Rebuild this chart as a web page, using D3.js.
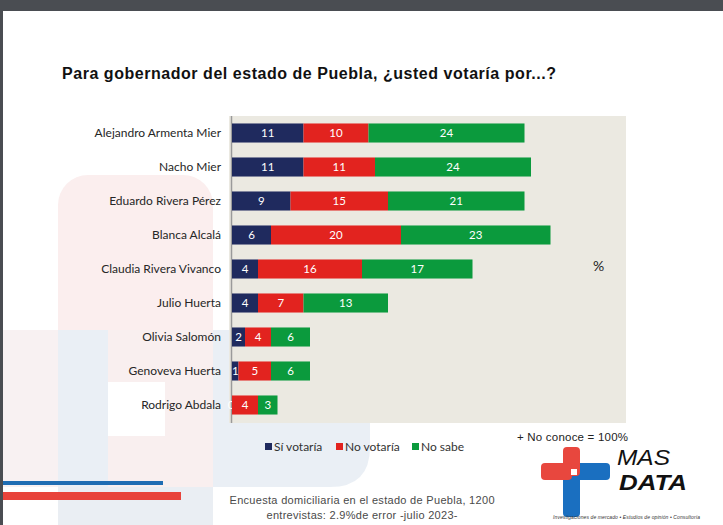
<!DOCTYPE html>
<html><head><meta charset="utf-8">
<script src="https://cdn.jsdelivr.net/npm/d3@7"></script>
<style>body{margin:0;background:#fff}svg{display:block}</style>
</head><body><svg id="c" width="723" height="525"></svg>
<script>
// ---- data ----
const categories = ["Alejandro Armenta Mier","Nacho Mier","Eduardo Rivera Pérez","Blanca Alcalá","Claudia Rivera Vivanco","Julio Huerta","Olivia Salomón","Genoveva Huerta","Rodrigo Abdala"];
const siVotaria = [11,11,9,6,4,4,2,1,0];
const noVotaria = [10,11,15,20,16,7,4,5,4];
const noSabe    = [24,24,21,23,17,13,6,6,3];
const seriesKeys  = ["si","no","ns"];
const seriesNames = ["Sí votaría","No votaría","No sabe"];
const seriesColors = ["#1f2a5e","#e2231f","#0b9a3d"];
const title = "Para gobernador del estado de Puebla, ¿usted votaría por...?";
const note = "+ No conoce = 100%";
const footer = ["Encuesta domiciliaria en el estado de Puebla, 1200","entrevistas: 2.9%de error -julio 2023-"];

const rows = categories.map((c,i)=>({cat:c, si:siVotaria[i], no:noVotaria[i], ns:noSabe[i]}));

const svg = d3.select("#c");
const W = 723, H = 525;
svg.append("rect").attr("width",W).attr("height",H).attr("fill","#fff");

// ---- faint watermark background ----
const wm = svg.append("g");
wm.append("rect").attr("x",58).attr("y",175).attr("width",155).attr("height",330).attr("rx",30).attr("fill","#fbeeee");
wm.append("path").attr("d","M0,330 H370 V447 Q370,487 330,487 H0 Z").attr("fill","#e9eef4").attr("opacity",0.95);
wm.append("rect").attr("x",0).attr("y",330).attr("width",58).attr("height",157).attr("fill","#f8f1f2");
wm.append("rect").attr("x",108).attr("y",330).attr("width",105).attr("height",157).attr("fill","#f9efef");
wm.append("rect").attr("x",108).attr("y",382).attr("width",57).attr("height",54).attr("fill","#ffffff");
wm.append("rect").attr("x",58).attr("y",487).attr("width",155).attr("height",38).attr("fill","#eaeef3");
// stripes
svg.append("rect").attr("x",0).attr("y",481).attr("width",163).attr("height",4).attr("fill","#1f6db3");
svg.append("rect").attr("x",0).attr("y",492).attr("width",181).attr("height",8).attr("fill","#e8433b");
// frame
svg.append("rect").attr("x",0).attr("y",0).attr("width",W).attr("height",11).attr("fill","#4a4d52");
svg.append("rect").attr("x",0).attr("y",0).attr("width",3).attr("height",H).attr("fill","#4a4d52");

// ---- title ----
svg.append("text").attr("x",62).attr("y",79)
  .attr("font-family","'Liberation Sans Narrow','Liberation Sans',Arial,sans-serif")
  .attr("font-weight","bold").attr("font-size",16).attr("fill","#111")
  .attr("textLength",494).attr("lengthAdjust","spacing").text(title);

// ---- scales ----
const x = d3.scaleLinear().domain([0,60]).range([232,622]);
const y = d3.scaleBand().domain(categories).range([116,422]).paddingInner(0.44).paddingOuter(0.22);

// plot background
svg.append("rect").attr("x",229).attr("y",116).attr("width",397).attr("height",307).attr("fill","#ebe9e1");

// axis line (under the bars)
const axis = svg.append("g").attr("transform","translate(232,0)")
  .call(d3.axisLeft(y).tickSize(0).tickPadding(11));
axis.select(".domain").attr("stroke","#9a9a9a").attr("stroke-width",1.5)
  .attr("d","M-0.5,116V423");
axis.selectAll("text").attr("font-family","Lato,'Open Sans',sans-serif")
  .attr("font-size",12).attr("fill","#262626");

const stack = d3.stack().keys(seriesKeys)(rows);

const groups = svg.append("g").selectAll("g").data(stack).join("g");
groups.each(function(s,si){
  const g = d3.select(this);
  g.selectAll("rect").data(s).join("rect")
    .attr("x",d=>x(d[0])).attr("width",d=>x(d[1])-x(d[0]))
    .attr("y",d=>y(d.data.cat)).attr("height",y.bandwidth())
    .attr("fill",seriesColors[si]);
  g.selectAll("text").data(s).join("text")
    .attr("x",d=>(x(d[0])+x(d[1]))/2 - (d[1]-d[0]===0 ? 1 : 0)).attr("y",d=>y(d.data.cat)+y.bandwidth()/2)
    .attr("dy","0.36em").attr("text-anchor","middle")
    .attr("font-family","Lato,'Open Sans',sans-serif").attr("font-size",11.5)
    .attr("fill","#ffffff").text(d=>d.data[seriesKeys[si]]);
});

// percent sign
svg.append("text").attr("x",593).attr("y",271).attr("font-family","Lato,sans-serif")
  .attr("font-size",14).attr("fill","#222").text("%");

// ---- legend ----
const legX = [265,336,412];
const leg = svg.append("g");
seriesNames.forEach((n,i)=>{
  leg.append("rect").attr("x",legX[i]).attr("y",443).attr("width",7).attr("height",7).attr("fill",seriesColors[i]);
  leg.append("text").attr("x",legX[i]+9).attr("y",450.5).attr("font-family","Lato,'Open Sans',sans-serif")
    .attr("font-size",12).attr("fill","#333").text(n);
});

// note
svg.append("text").attr("x",517).attr("y",441).attr("font-family","'Liberation Sans',Arial,sans-serif")
  .attr("font-size",11.5).attr("fill","#222").attr("textLength",111).text(note);

// footer
svg.append("text").attr("x",362).attr("y",504).attr("text-anchor","middle")
  .attr("font-family","'Liberation Sans',Arial,sans-serif").attr("font-size",11).attr("fill","#4a4a4a")
  .attr("textLength",265).attr("lengthAdjust","spacing").text(footer[0]);
svg.append("text").attr("x",362).attr("y",519).attr("text-anchor","middle")
  .attr("font-family","'Liberation Sans',Arial,sans-serif").attr("font-size",11).attr("fill","#4a4a4a")
  .attr("textLength",191).attr("lengthAdjust","spacing").text(footer[1]);

// ---- logo ----
const lg = svg.append("g");
const red="#e8473e", blue="#1a6fc0";
lg.append("rect").attr("x",566).attr("y",463).attr("width",44).attr("height",17).attr("rx",4).attr("fill",blue);
lg.append("rect").attr("x",563).attr("y",466).attr("width",17).attr("height",51).attr("rx",4).attr("fill",blue);
lg.append("rect").attr("x",563).attr("y",447).attr("width",17).attr("height",29).attr("rx",4).attr("fill",red);
lg.append("rect").attr("x",541).attr("y",463).attr("width",31).attr("height",17).attr("rx",4).attr("fill",red);
lg.append("rect").attr("x",571).attr("y",469).attr("width",6).attr("height",6).attr("fill","#fff");
lg.append("text").attr("x",617).attr("y",465).attr("font-family","'Liberation Sans',Arial,sans-serif")
  .attr("font-style","italic").attr("font-size",22).attr("fill","#111")
  .attr("textLength",53).attr("lengthAdjust","spacingAndGlyphs").text("MAS");
lg.append("text").attr("x",619).attr("y",490).attr("font-family","'Liberation Sans',Arial,sans-serif")
  .attr("font-style","italic").attr("font-weight","bold").attr("font-size",22).attr("fill","#111")
  .attr("textLength",68).attr("lengthAdjust","spacingAndGlyphs").text("DATA");
lg.append("text").attr("x",553).attr("y",519).attr("font-family","'Liberation Sans',Arial,sans-serif")
  .attr("font-style","italic").attr("font-size",5).attr("fill","#333").attr("textLength",147)
  .text("Investigaciones de mercado • Estudios de opinión • Consultoría");
</script></body></html>
